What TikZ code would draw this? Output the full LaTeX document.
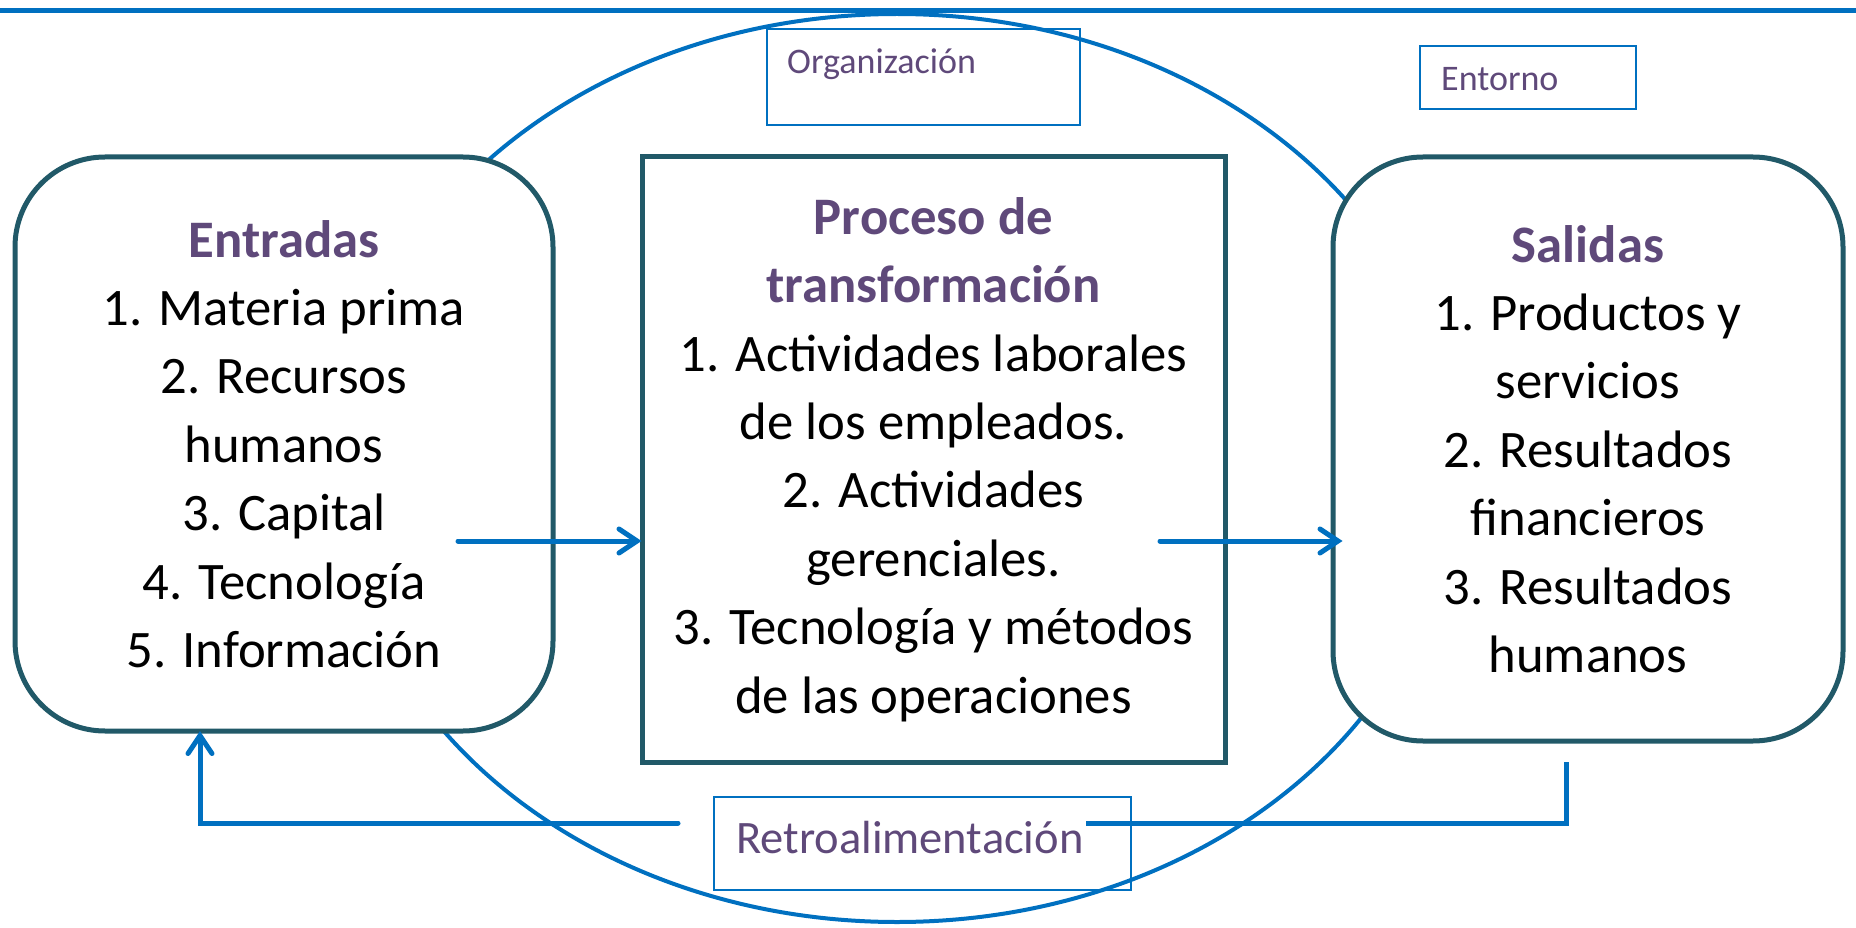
\documentclass[tikz,border=0pt]{standalone}
\usepackage{fontspec}
\setmainfont{Carlito}
\usetikzlibrary{arrows.meta}
\definecolor{azul}{HTML}{0070C0}
\definecolor{petroleo}{HTML}{215968}
\definecolor{morado}{HTML}{5F497A}
\newcommand{\titulo}[1]{\textcolor{morado}{\textbf{#1}}}

\begin{document}
\begin{tikzpicture}[x=1pt,y=-1pt,
  caja/.style={draw=petroleo,line width=5pt,fill=white,align=center,inner sep=0pt,
    font=\fontsize{52.7}{68.4}\selectfont},
  etiqueta/.style={draw=azul,line width=2pt,inner sep=0pt},
  rotulo/.style={text=morado,inner sep=0pt,anchor=base west},
  flujo/.style={draw=azul,line width=5pt,line cap=round,
    -{Straight Barb[length=18pt,width=24pt,line cap=round]}},
  linea/.style={draw=azul,line width=5pt}]
\useasboundingbox (0,0) rectangle (1856,928);
% marco superior y organizacion
\draw [linea] (0,11) -- (1856,11);
\draw [azul,line width=4pt] (897,468) ellipse [x radius=556, y radius=454];
% bloques
\node [caja,rounded corners=90pt,minimum width=538pt,minimum height=574pt] (entradas) at (284,444)
  {\titulo{Entradas}\\1. Materia prima\\2. Recursos\\humanos\\3. Capital\\4. Tecnología\\5. Información};
\node [caja,minimum width=583pt,minimum height=605pt] (proceso) at (933.5,459.5)
  {\titulo{Proceso de}\\\titulo{transformación}\\1. Actividades laborales\\de los empleados.\\2. Actividades\\gerenciales.\\3. Tecnología y métodos\\de las operaciones};
\node [caja,rounded corners=90pt,minimum width=510pt,minimum height=584pt] (salidas) at (1588,449)
  {\titulo{Salidas}\\1. Productos y\\servicios\\2. Resultados\\financieros\\3. Resultados\\humanos};
% etiquetas
\node [etiqueta,minimum width=313pt,minimum height=96pt] (orgcaja) at (923.5,77) {};
\node [rotulo,font=\fontsize{36}{40}\selectfont] (orgtexto) at (787,74) {Organización};
\node [etiqueta,minimum width=216pt,minimum height=63pt] (entcaja) at (1528,77.5) {};
\node [rotulo,font=\fontsize{36}{40}\selectfont] (enttexto) at (1441,91) {Entorno};
\node [etiqueta,minimum width=417pt,minimum height=93pt] (retrocaja) at (922.5,843.5) {};
\node [rotulo,font=\fontsize{46.5}{50}\selectfont] (retrotexto) at (736,853) {Retroalimentación};
% flujo principal
\coordinate (inicio) at (458,541);
\coordinate (medio) at (1160,541);
\draw [flujo] (inicio) -- ([xshift=2pt]proceso.west |- inicio);
\draw [flujo] (medio) -- ([xshift=12pt]salidas.west |- medio);
% retroalimentacion
\coordinate (fbsalida) at (1566,762);
\coordinate (fbderecha) at (1086,823);
\coordinate (fbizquierda) at (678,823);
\coordinate (fbentrada) at (200,731);
\draw [linea] (fbsalida) |- (fbderecha);
\draw [flujo] (fbizquierda) -| (fbentrada);
\end{tikzpicture}
\end{document}
